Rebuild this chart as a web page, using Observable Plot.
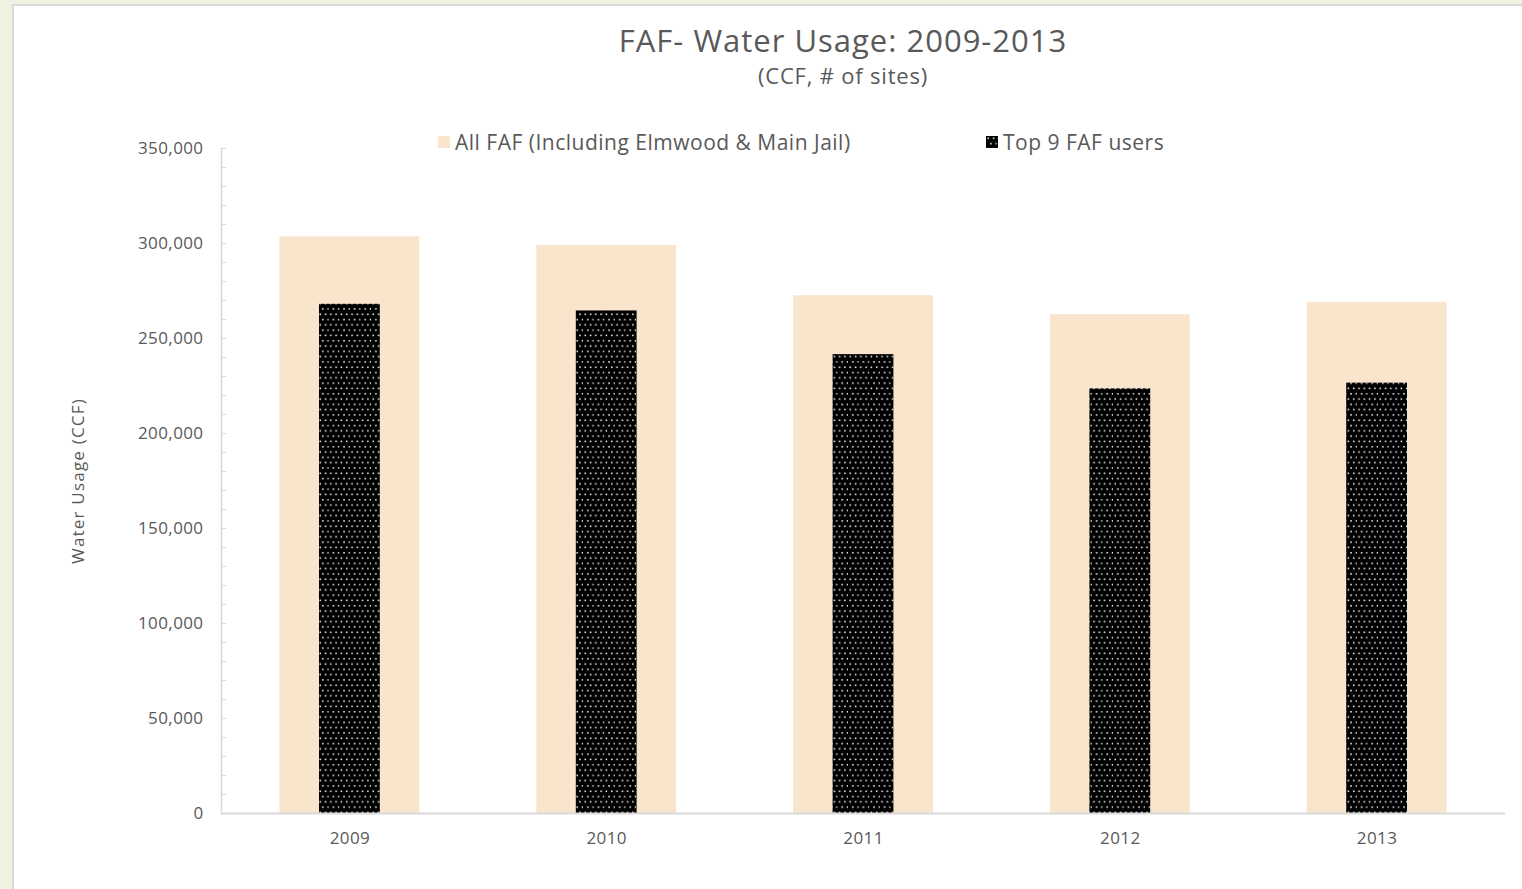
<!DOCTYPE html>
<html><head><meta charset="utf-8">
<script src="https://cdn.jsdelivr.net/npm/d3@7"></script>
<script src="https://cdn.jsdelivr.net/npm/@observablehq/plot@0.6"></script>
<style>
body{margin:0;background:#eff2e1;width:1522px;height:889px;overflow:hidden;font-family:"Open Sans",sans-serif;color:#595959;position:relative;}
#panel{position:absolute;left:12px;top:4px;width:1510px;height:885px;background:#fff;border-left:2px solid #d9d9d9;border-top:2px solid #d9d9d9;box-sizing:border-box;}
.title{position:absolute;left:843px;transform:translateX(-50%);white-space:nowrap;}
#t1{top:19px;font-size:31px;letter-spacing:1px;}
#t2{top:60px;font-size:22px;letter-spacing:0.8px;}
.leg{position:absolute;top:128px;font-size:21px;letter-spacing:0.5px;white-space:nowrap;display:flex;align-items:center;}
.sw{width:12px;height:12px;margin-right:5px;display:inline-block;}
#chart{position:absolute;left:0;top:100px;}
</style></head>
<body>
<div id="panel"></div>
<div class="title" id="t1">FAF- Water Usage: 2009-2013</div>
<div class="title" id="t2">(CCF, # of sites)</div>
<div class="leg" style="left:438px"><span class="sw" style="background:#f9e4cc"></span>All FAF (Including Elmwood &amp; Main Jail)</div>
<div class="leg" style="left:986px"><svg class="sw" width="12" height="12"><rect width="12" height="12" fill="url(#dots)"/></svg>Top 9 FAF users</div>
<div id="chart"></div>
<script>
const years = ["2009", "2010", "2011", "2012", "2013"];
const allFAF = [303500, 299000, 272500, 262500, 269000];
const top9 = [268000, 264500, 241500, 223500, 226500];
const majorTicks = [0, 50000, 100000, 150000, 200000, 250000, 300000, 350000];
const minorTicks = d3.range(0, 350001, 10000);

const allData = years.map((y, i) => ({year: y, value: allFAF[i]}));
const topData = years.map((y, i) => ({year: y, value: top9[i]}));

const plot = Plot.plot({
  width: 1510,
  height: 780,
  marginTop: 48,
  marginBottom: 67,
  marginLeft: 221,
  marginRight: 5,
  style: {background: "transparent", fontFamily: "'Open Sans', sans-serif", fontSize: "17px", color: "#595959", letterSpacing: "0.4px"},
  x: {domain: years, padding: 0, round: false},
  y: {domain: [0, 350000]},
  marks: [
    Plot.barY(allData, {x: "year", y: "value", fill: "#f9e4cc", insetLeft: 58.5, insetRight: 58.5}),
    Plot.barY(topData, {x: "year", y: "value", fill: "url(#dots)", insetLeft: 98, insetRight: 98}),
    Plot.frame({anchor: "left", stroke: "#d9d9d9", strokeWidth: 1.5}),
    Plot.ruleY([0], {stroke: "#d9d9d9", strokeWidth: 2}),
    Plot.axisY({ticks: minorTicks, tickSize: -5, tickFormat: () => "", stroke: "#d9d9d9", label: null}),
    Plot.axisY({ticks: majorTicks, tickSize: 0, tickPadding: 18, tickFormat: d3.format(","), fill: "#595959",
      label: "Water Usage (CCF)", labelAnchor: "center", labelOffset: 150, labelArrow: "none"}),
    Plot.axisX({tickSize: 0, tickPadding: 18, fill: "#595959", label: null})
  ]
});
document.getElementById("chart").appendChild(plot);
d3.select(plot).selectAll("[aria-label='y-axis label'] text").style("letter-spacing", "1.2px");

// dotted pattern definition
const svgDefs = d3.select("body").append("svg").attr("width", 0).attr("height", 0).style("position", "absolute");
const pat = svgDefs.append("defs").append("pattern").attr("id", "dots")
  .attr("patternUnits", "userSpaceOnUse").attr("width", 10.6).attr("height", 10.6);
pat.append("rect").attr("width", 10.6).attr("height", 10.6).attr("fill", "#000");
[[1.5, 1.5], [6.8, 1.5], [4.1, 6.8], [9.4, 6.8]].forEach(([x, y]) =>
  pat.append("rect").attr("x", x).attr("y", y).attr("width", 1.5).attr("height", 1.5).attr("fill", "#fff"));
</script>
</body></html>
